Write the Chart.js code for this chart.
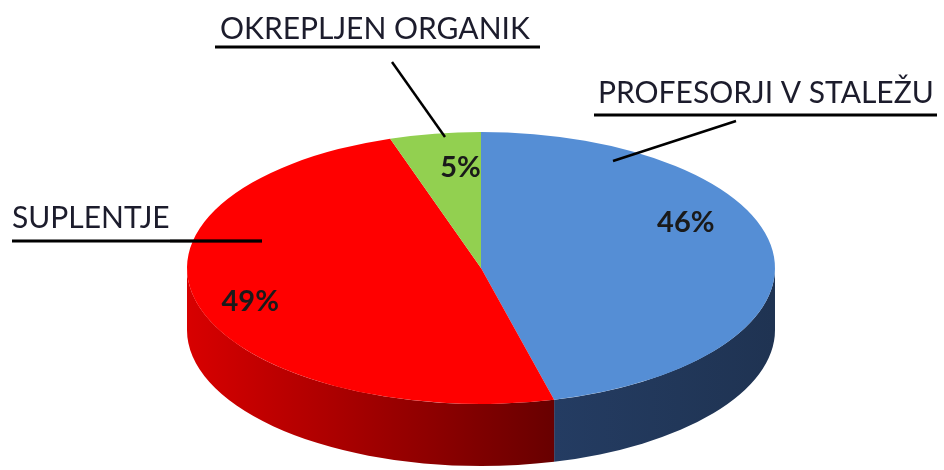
<!DOCTYPE html>
<html>
<head>
<meta charset="utf-8">
<script src="https://cdn.jsdelivr.net/npm/chart.js@4"></script>
<style>
  body { margin: 0; background: #fff; }
  #wrap { width: 944px; height: 470px; }
</style>
</head>
<body>
<div id="wrap"><canvas id="grafica" width="944" height="470"></canvas></div>
<script>
// data
const categorias = ["PROFESORJI V STALEŽU", "SUPLENTJE", "OKREPLJEN ORGANIK"];
const valores = [46, 49, 5];

// colores (top face and side wall)
const coloresTop = ["#558ED5", "#FF0000", "#92D050"];
const coloresLado = [["#243C62", "#1F3352"], ["#D80000", "#680000"], ["#6E9E3A", "#50762A"]];

// 3d look
const RX = 294, RY = 136, DEPTH = 62;

// label layout: text position, leader line, underline
const etiquetas = [
  { x: 598, y: 103, lineTo: [613, 161], lineFrom: [736, 121], ul: [594, 937, 115] },
  { x: 12, y: 228, lineTo: [262, 241], lineFrom: [170, 241], ul: [12, 262, 241] },
  { x: 220, y: 39, lineTo: [445, 137], lineFrom: [392, 62], ul: [215, 540, 47] }
];
const pctNudge = [[-14, -33], [-19, 5], [14, 0]];

const pie3d = {
  id: "pie3d",
  beforeDatasetsDraw(chart) {
    const ctx = chart.ctx;
    const arcs = chart.getDatasetMeta(0).data;
    // side walls (front half only)
    arcs.forEach((a, i) => {
      const s = Math.max(a.startAngle, 0);
      const e = Math.min(a.endAngle, Math.PI);
      if (e <= s) return;
      const x1 = a.x + RX * Math.cos(e), x2 = a.x + RX * Math.cos(s);
      const g = ctx.createLinearGradient(Math.min(x1, x2), 0, Math.max(x1, x2), 0);
      g.addColorStop(0, coloresLado[i][0]);
      g.addColorStop(1, coloresLado[i][1]);
      ctx.save();
      ctx.beginPath();
      ctx.ellipse(a.x, a.y, RX, RY, 0, s, e);
      ctx.ellipse(a.x, a.y + DEPTH, RX, RY, 0, e, s, true);
      ctx.closePath();
      ctx.fillStyle = g;
      ctx.fill();
      ctx.restore();
    });
    // squash the top face
    const a0 = arcs[0];
    ctx.save();
    ctx.translate(a0.x, a0.y);
    ctx.scale(RX / a0.outerRadius, RY / a0.outerRadius);
    ctx.translate(-a0.x, -a0.y);
  },
  afterDatasetsDraw(chart) {
    chart.ctx.restore();
  },
  afterDraw(chart) {
    const ctx = chart.ctx;
    const arcs = chart.getDatasetMeta(0).data;
    const total = valores.reduce((p, v) => p + v, 0);

    // percentages
    ctx.save();
    ctx.fillStyle = "#1a1a1a";
    ctx.font = "bold 29px Lato";
    ctx.textAlign = "center";
    ctx.textBaseline = "middle";
    arcs.forEach((a, i) => {
      const m = (a.startAngle + a.endAngle) / 2;
      const px = a.x + RX * 0.75 * Math.cos(m) + pctNudge[i][0];
      const py = a.y + RY * 0.75 * Math.sin(m) + pctNudge[i][1];
      ctx.fillText(Math.round(valores[i] / total * 100) + "%", px, py);
    });
    ctx.restore();

    // category labels with leader lines
    ctx.save();
    ctx.fillStyle = "#1c1c2c";
    ctx.font = "30px Lato";
    ctx.textBaseline = "alphabetic";
    ctx.strokeStyle = "#000";
    etiquetas.forEach((l, i) => {
      ctx.fillText(categorias[i], l.x, l.y);
      ctx.lineWidth = 3;
      ctx.beginPath();
      ctx.moveTo(l.ul[0], l.ul[2]);
      ctx.lineTo(l.ul[1], l.ul[2]);
      ctx.stroke();
      ctx.lineWidth = 2.5;
      ctx.beginPath();
      ctx.moveTo(l.lineFrom[0], l.lineFrom[1]);
      ctx.lineTo(l.lineTo[0], l.lineTo[1]);
      ctx.stroke();
    });
    ctx.restore();
  }
};

new Chart(document.getElementById("grafica").getContext("2d"), {
  type: "pie",
  data: {
    labels: categorias,
    datasets: [{
      data: valores,
      backgroundColor: coloresTop,
      borderWidth: 0,
      hoverOffset: 0
    }]
  },
  options: {
    responsive: false,
    animation: false,
    devicePixelRatio: 1,
    events: [],
    layout: { padding: { top: 118, bottom: 52, left: 18, right: 0 } },
    plugins: {
      legend: { display: false },
      tooltip: { enabled: false },
      title: { display: false }
    }
  },
  plugins: [pie3d]
});
</script>
</body>
</html>
